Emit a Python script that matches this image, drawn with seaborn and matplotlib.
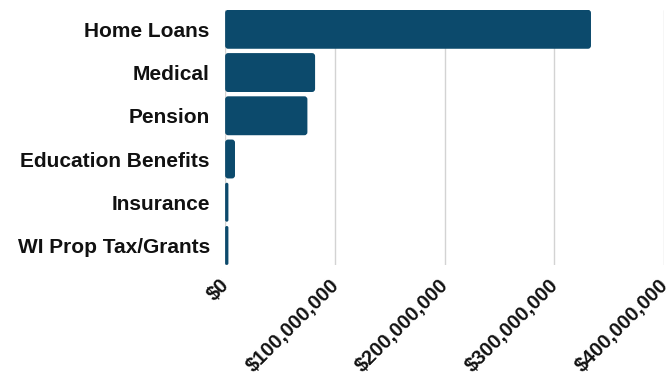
import matplotlib
matplotlib.use("Agg")
import matplotlib.pyplot as plt
from matplotlib.patches import FancyBboxPatch
from matplotlib.ticker import FuncFormatter
from matplotlib.transforms import ScaledTranslation
import seaborn as sns
import pandas as pd

categories = ["Home Loans", "Medical", "Pension", "Education Benefits", "Insurance", "WI Prop Tax/Grants"]
values = [333_500_000, 82_000_000, 75_000_000, 9_000_000, 3_000_000, 3_000_000]
xticks = [0, 100_000_000, 200_000_000, 300_000_000, 400_000_000]

df = pd.DataFrame({"category": categories, "value": values})

sns.set_theme(style="white")
plt.rcParams["font.family"] = ["Liberation Sans", "DejaVu Sans"]

fig = plt.figure(figsize=(6.72, 3.79), dpi=100)
ax = fig.add_axes([0.335, 0.301, 0.653, 0.673])

bar_color = "#0c4a6c"
sns.barplot(data=df, x="value", y="category", orient="h", color=bar_color,
            width=0.9, saturation=1, ax=ax, zorder=3)

# rounded corners on the bars (same geometry as seaborn's patches)
px_x = 400_000_000 / 439.0
px_y = 6 / 255.0
for p in list(ax.patches):
    x, y = p.get_x(), p.get_y()
    w, h = p.get_width(), p.get_height()
    r = min(3 * px_x, w / 2)
    fb = FancyBboxPatch((x, y), w, h,
                        boxstyle=f"round,pad=0,rounding_size={r}",
                        mutation_aspect=px_y / px_x,
                        facecolor=bar_color, edgecolor="none", zorder=3)
    p.remove()
    ax.add_patch(fb)

ax.set_xlim(0, 400_000_000)
ax.set_ylim(5.45, -0.45)
ax.set_xticks(xticks)
ax.xaxis.set_major_formatter(FuncFormatter(lambda v, _: f"${v:,.0f}"))
ax.grid(axis="x", color="#d3d3d3", linewidth=1, zorder=0)
ax.grid(axis="y", visible=False)
for s in ax.spines.values():
    s.set_visible(False)
ax.set_xlabel("")
ax.set_ylabel("")
ax.tick_params(axis="y", length=0, pad=11, labelsize=15)
ax.tick_params(axis="x", length=0, pad=10, labelsize=14.5)
for lab in ax.get_yticklabels():
    lab.set_fontweight("bold")
    lab.set_color("#111111")
offset = ScaledTranslation(1 / 100, -3.5 / 100, fig.dpi_scale_trans)
for lab in ax.get_xticklabels():
    lab.set_fontweight("bold")
    lab.set_color("#111111")
    lab.set_rotation(45)
    lab.set_ha("right")
    lab.set_va("center")
    lab.set_rotation_mode("anchor")
    lab.set_transform(lab.get_transform() + offset)

fig.savefig("out.png", dpi=100)
